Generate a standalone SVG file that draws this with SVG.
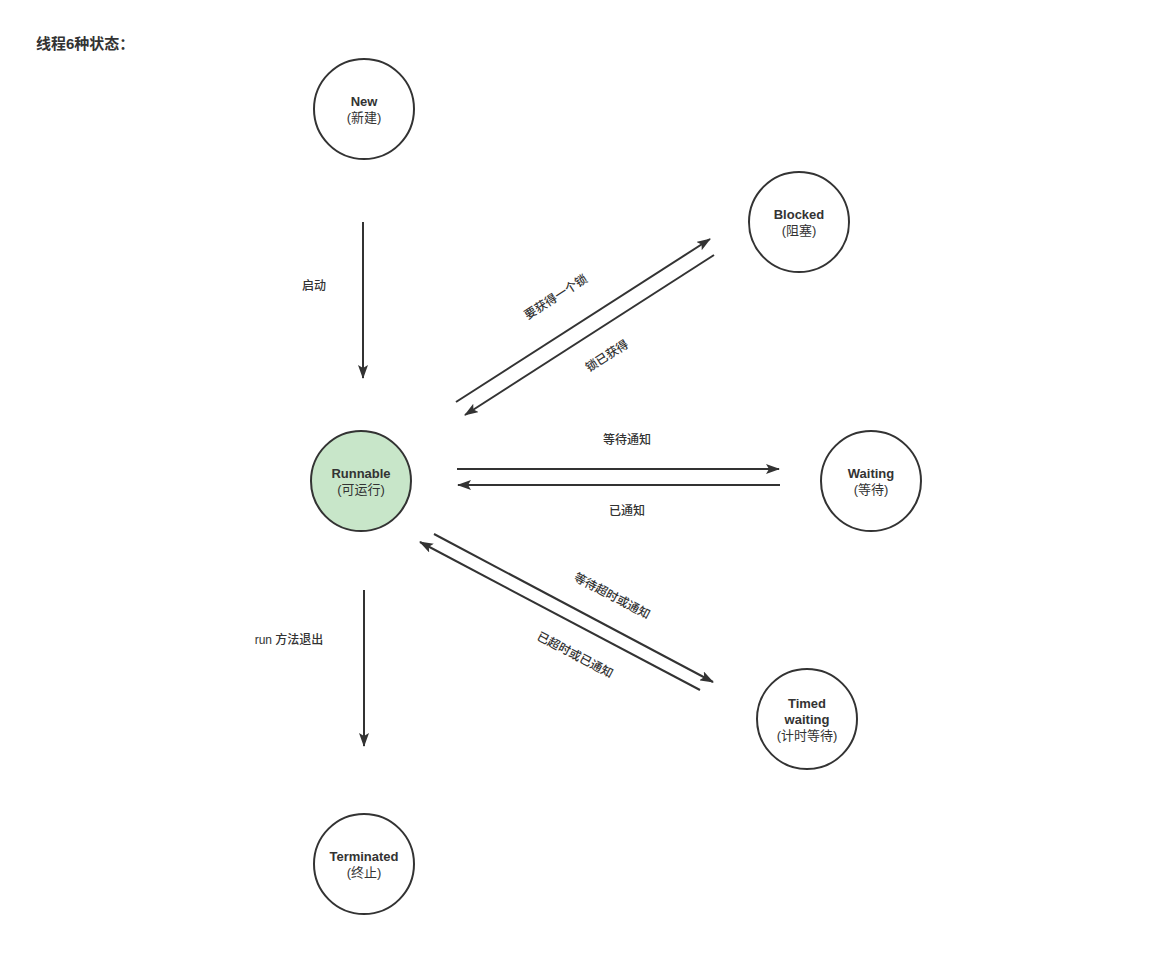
<svg xmlns="http://www.w3.org/2000/svg" width="1161" height="958" viewBox="0 0 1161 958">
<defs>
<style>
text{font-family:"Liberation Sans","Noto Sans CJK SC",sans-serif;fill:#333;}
.title{font-size:15px;font-weight:bold;}
.nl{font-size:13px;font-weight:bold;text-anchor:middle;}
.ns{font-size:13px;text-anchor:middle;}
.el{font-size:12px;font-weight:500;text-anchor:middle;}
.node{fill:#fff;stroke:#333;stroke-width:2;}
.run{fill:#c8e6c9;}
.edge{stroke:#333;stroke-width:2;fill:none;marker-end:url(#arr);}
</style>
<marker id="arr" markerUnits="userSpaceOnUse" markerWidth="14" markerHeight="10" viewBox="0 0 14 10" refX="13" refY="5" orient="auto">
<path d="M0,0 L14,5 L0,10 L3,5 Z" fill="#333"/>
</marker>
</defs>
<rect width="1161" height="958" fill="#fff"/>
<text class="title" x="36" y="49">线程6种状态：</text>
<g id="new"><circle class="node" cx="364" cy="109" r="50"/><text class="nl" x="364" y="106">New</text><text class="ns" x="364" y="122">(新建)</text></g>
<g id="blocked"><circle class="node" cx="799" cy="222" r="50"/><text class="nl" x="799" y="219">Blocked</text><text class="ns" x="799" y="235">(阻塞)</text></g>
<g id="runnable"><circle class="node run" cx="361" cy="481" r="50"/><text class="nl" x="361" y="478">Runnable</text><text class="ns" x="361" y="494">(可运行)</text></g>
<g id="waiting"><circle class="node" cx="871" cy="481" r="50"/><text class="nl" x="871" y="478">Waiting</text><text class="ns" x="871" y="494">(等待)</text></g>
<g id="timed"><circle class="node" cx="807" cy="719" r="50"/><text class="nl" x="807" y="708">Timed</text><text class="nl" x="807" y="724">waiting</text><text class="ns" x="807" y="740">(计时等待)</text></g>
<g id="terminated"><circle class="node" cx="364" cy="864" r="50"/><text class="nl" x="364" y="861">Terminated</text><text class="ns" x="364" y="877">(终止)</text></g>
<g id="connectors">
<line class="edge" x1="363" y1="222" x2="363" y2="378"/>
<line class="edge" x1="456" y1="402" x2="710" y2="239"/>
<line class="edge" x1="714" y1="255" x2="465" y2="415"/>
<line class="edge" x1="457" y1="469" x2="779" y2="469"/>
<line class="edge" x1="780" y1="485" x2="458" y2="485"/>
<line class="edge" x1="434" y1="534" x2="713" y2="682"/>
<line class="edge" x1="700" y1="690" x2="420" y2="542"/>
<line class="edge" x1="364" y1="590" x2="364" y2="746"/>
<text class="el" x="314" y="290">启动</text>
<text class="el" transform="translate(556,297) rotate(-32.7)" y="4">要获得一个锁</text>
<text class="el" transform="translate(607,356) rotate(-32.7)" y="4">锁已获得</text>
<text class="el" x="627" y="444">等待通知</text>
<text class="el" x="627" y="515">已通知</text>
<text class="el" transform="translate(612,596) rotate(27.9)" y="4">等待超时或通知</text>
<text class="el" transform="translate(575,655) rotate(27.9)" y="4">已超时或已通知</text>
<text class="el" x="289" y="644">run 方法退出</text>
</g>
</svg>
